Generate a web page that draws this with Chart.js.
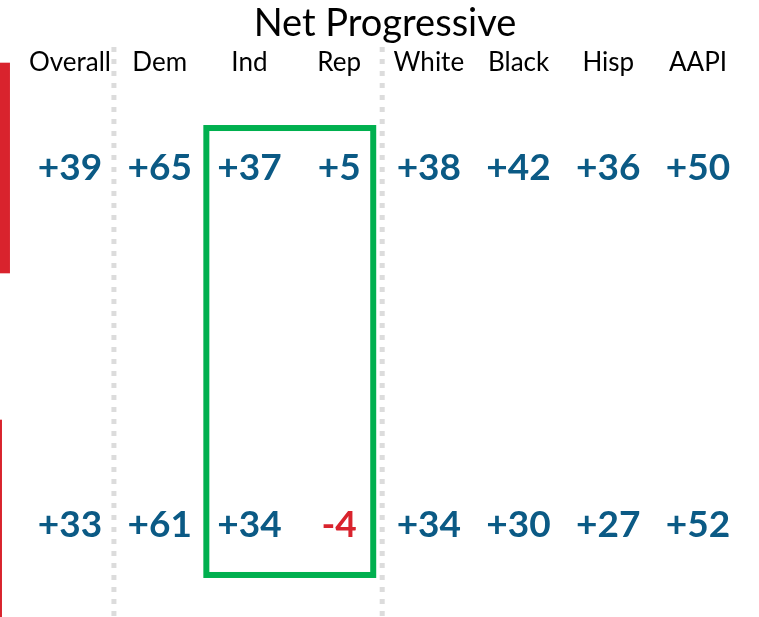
<!DOCTYPE html>
<html>
<head>
<meta charset="utf-8">
<script src="https://cdn.jsdelivr.net/npm/chart.js@4"></script>
<style>
  html, body { margin: 0; padding: 0; background: #ffffff; }
  #wrap { width: 759px; height: 617px; }
</style>
</head>
<body>
<div id="wrap"><canvas id="c" width="759" height="617"></canvas></div>
<script>
// ---- data ----
const titleText = 'Net Progressive';
const columns = ['Overall', 'Dem', 'Ind', 'Rep', 'White', 'Black', 'Hisp', 'AAPI'];
const row1 = [39, 65, 37, 5, 38, 42, 36, 50];
const row2 = [33, 61, 34, -4, 34, 30, 27, 52];
const leftBarEnds = [-0.669, -0.758];   // cropped bars from neighbouring chart (x in column units)
const dividers = [0.49, 3.48];          // dotted separators between column groups
const highlightX = [1.52, 3.38];        // box around Ind / Rep
const highlightY = [-0.112, 1.14];

const BLUE = '#0b5a85';
const RED = '#d9232d';
const GREEN = '#00b04f';
const FONT = 'Lato, "Open Sans", sans-serif';

function fmt(v) { return (v > 0 ? '+' : v < 0 ? '-' : '') + Math.abs(v); }

const tablePlugin = {
  id: 'tablePlugin',
  beforeDatasetsDraw(chart) {
    const ctx = chart.ctx, xs = chart.scales.x, ys = chart.scales.y;
    ctx.save();
    // cropped red bars at left edge
    ctx.fillStyle = RED;
    leftBarEnds.forEach((end, r) => {
      const y0 = ys.getPixelForValue(r - 0.295), y1 = ys.getPixelForValue(r + 0.295);
      const x0 = xs.getPixelForValue(xs.min), x1 = xs.getPixelForValue(end);
      ctx.fillRect(x0, y0, x1 - x0, y1 - y0);
    });
    // dotted dividers
    ctx.strokeStyle = '#dcdcdc';
    ctx.lineWidth = 5;
    ctx.setLineDash([5, 7]);
    dividers.forEach(d => {
      const x = xs.getPixelForValue(d);
      ctx.beginPath();
      ctx.moveTo(x, 47);
      ctx.lineTo(x, chart.height);
      ctx.stroke();
    });
    ctx.setLineDash([]);
    // highlight box
    ctx.strokeStyle = GREEN;
    ctx.lineWidth = 6;
    const bx0 = xs.getPixelForValue(highlightX[0]), bx1 = xs.getPixelForValue(highlightX[1]);
    const by0 = ys.getPixelForValue(highlightY[0]), by1 = ys.getPixelForValue(highlightY[1]);
    ctx.strokeRect(bx0, by0, bx1 - bx0, by1 - by0);
    ctx.restore();
  },
  afterDatasetsDraw(chart) {
    const ctx = chart.ctx, xs = chart.scales.x;
    ctx.save();
    ctx.textAlign = 'center';
    ctx.textBaseline = 'middle';
    // title
    ctx.fillStyle = '#000000';
    ctx.font = '400 38px ' + FONT;
    ctx.fillText(titleText, 385, 24);
    // column headers
    ctx.font = '400 26px ' + FONT;
    columns.forEach((c, i) => ctx.fillText(c, xs.getPixelForValue(i), 63));
    // values
    ctx.font = '700 37px ' + FONT;
    chart.data.datasets.forEach((ds, di) => {
      const meta = chart.getDatasetMeta(di);
      meta.data.forEach((pt, i) => {
        const v = ds.data[i].v;
        ctx.fillStyle = v < 0 ? RED : BLUE;
        ctx.fillText(fmt(v), pt.x, pt.y);
      });
    });
    ctx.restore();
  }
};

new Chart(document.getElementById('c'), {
  type: 'scatter',
  data: {
    datasets: [
      { data: row1.map((v, i) => ({ x: i, y: 0, v })), pointRadius: 0 },
      { data: row2.map((v, i) => ({ x: i, y: 1, v })), pointRadius: 0 }
    ]
  },
  options: {
    responsive: false,
    animation: false,
    layout: { padding: 0 },
    plugins: { legend: { display: false }, tooltip: { enabled: false } },
    scales: {
      x: { type: 'linear', min: -0.78, max: 7.68, display: false },
      y: { type: 'linear', min: -0.4706, max: 1.2577, reverse: true, display: false }
    }
  },
  plugins: [tablePlugin]
});
</script>
</body>
</html>
